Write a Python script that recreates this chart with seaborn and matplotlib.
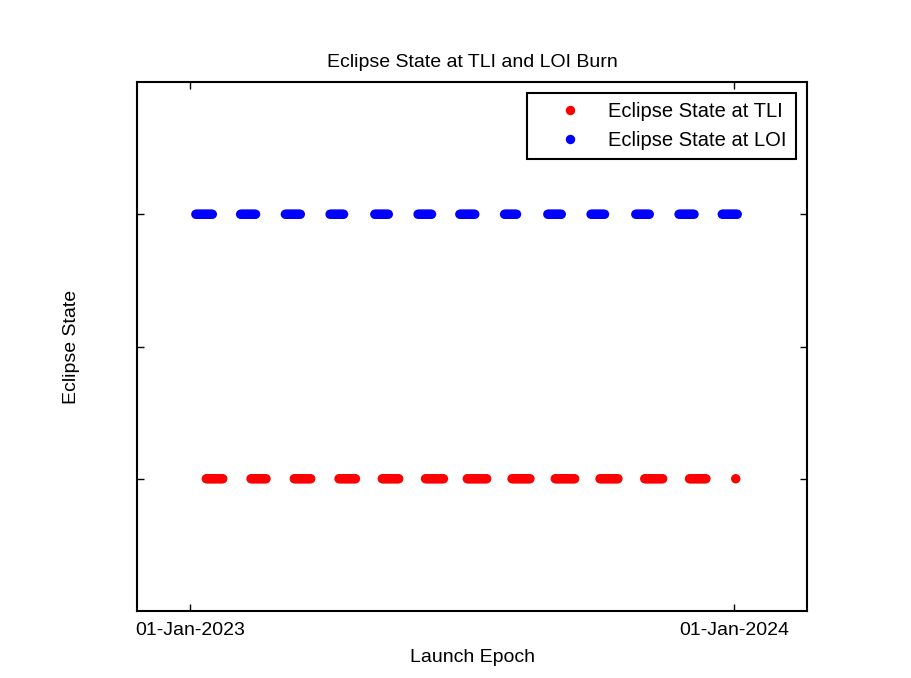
import pandas as pd
import seaborn as sns
import numpy as np
import matplotlib
matplotlib.use('Agg')
import matplotlib.pyplot as plt

# launch windows (daily epochs), as start / end dates
tli_start = ['2023-01-12', '2023-02-11', '2023-03-12', '2023-04-11', '2023-05-10', '2023-06-08',
             '2023-07-06', '2023-08-05', '2023-09-03', '2023-10-03', '2023-11-02', '2023-12-02',
             '2024-01-02']
tli_end = ['2023-01-23', '2023-02-21', '2023-03-23', '2023-04-22', '2023-05-21', '2023-06-20',
           '2023-07-19', '2023-08-17', '2023-09-16', '2023-10-15', '2023-11-14', '2023-12-13',
           '2024-01-02']
loi_start = ['2023-01-05', '2023-02-04', '2023-03-06', '2023-04-05', '2023-05-05', '2023-06-03',
             '2023-07-01', '2023-07-31', '2023-08-29', '2023-09-27', '2023-10-27', '2023-11-25',
             '2023-12-24']
loi_end = ['2023-01-16', '2023-02-14', '2023-03-16', '2023-04-14', '2023-05-14', '2023-06-12',
           '2023-07-11', '2023-08-08', '2023-09-07', '2023-10-06', '2023-11-05', '2023-12-05',
           '2024-01-03']
tli_state = 1
loi_state = 3
xticks = ['2023-01-01', '2024-01-01']
xtick_labels = ['01-Jan-2023', '01-Jan-2024']


def expand(starts, ends, state, name):
    days = []
    for s, e in zip(starts, ends):
        days.extend(pd.date_range(s, e, freq='D'))
    return pd.DataFrame({'epoch': days, 'state': state, 'series': name})


df = pd.concat([
    expand(tli_start, tli_end, tli_state, 'Eclipse State at TLI'),
    expand(loi_start, loi_end, loi_state, 'Eclipse State at LOI'),
], ignore_index=True)

sns.set_style('white')
plt.rcParams['font.family'] = ['Liberation Sans', 'DejaVu Sans']
plt.rcParams['text.color'] = 'black'
plt.rcParams['axes.labelcolor'] = 'black'

fig = plt.figure(figsize=(9.11, 6.78), dpi=100)
ax = fig.add_axes([137 / 911, 1 - 611 / 678, 670 / 911, 529 / 678])

sns.scatterplot(data=df, x='epoch', y='state', hue='series',
                palette={'Eclipse State at TLI': '#ff0000', 'Eclipse State at LOI': '#0000ff'},
                s=46, linewidth=0, ax=ax)

ax.set_xlim(pd.Timestamp('2022-11-26 12:00'), pd.Timestamp('2024-02-18 19:00'))
ax.set_ylim(0, 4)
ax.set_xticks(pd.to_datetime(xticks))
ax.set_xticklabels(xtick_labels, fontsize=14)
ax.set_yticks([1, 2, 3])
ax.set_yticklabels([])
ax.tick_params(direction='in', length=5, width=1, top=True, right=True, bottom=True, left=True,
               colors='black', pad=8)
for sp in ax.spines.values():
    sp.set_visible(True)
    sp.set_color('black')
    sp.set_linewidth(1.5)

ax.set_title('Eclipse State at TLI and LOI Burn', fontsize=14, pad=11)
ax.set_xlabel('Launch Epoch', fontsize=14, labelpad=7)
ax.set_ylabel('Eclipse State', fontsize=14, labelpad=33)

leg = ax.legend(loc='upper right', fontsize=14.5, frameon=True, fancybox=False,
                edgecolor='black', framealpha=1, markerscale=1.0,
                borderaxespad=0.55, handlelength=3.4, handletextpad=0.2,
                borderpad=0.45, labelspacing=0.5)
leg.get_frame().set_linewidth(1.5)
for t in leg.get_texts():
    t.set_color('black')

fig.savefig('out.png', dpi=100)
